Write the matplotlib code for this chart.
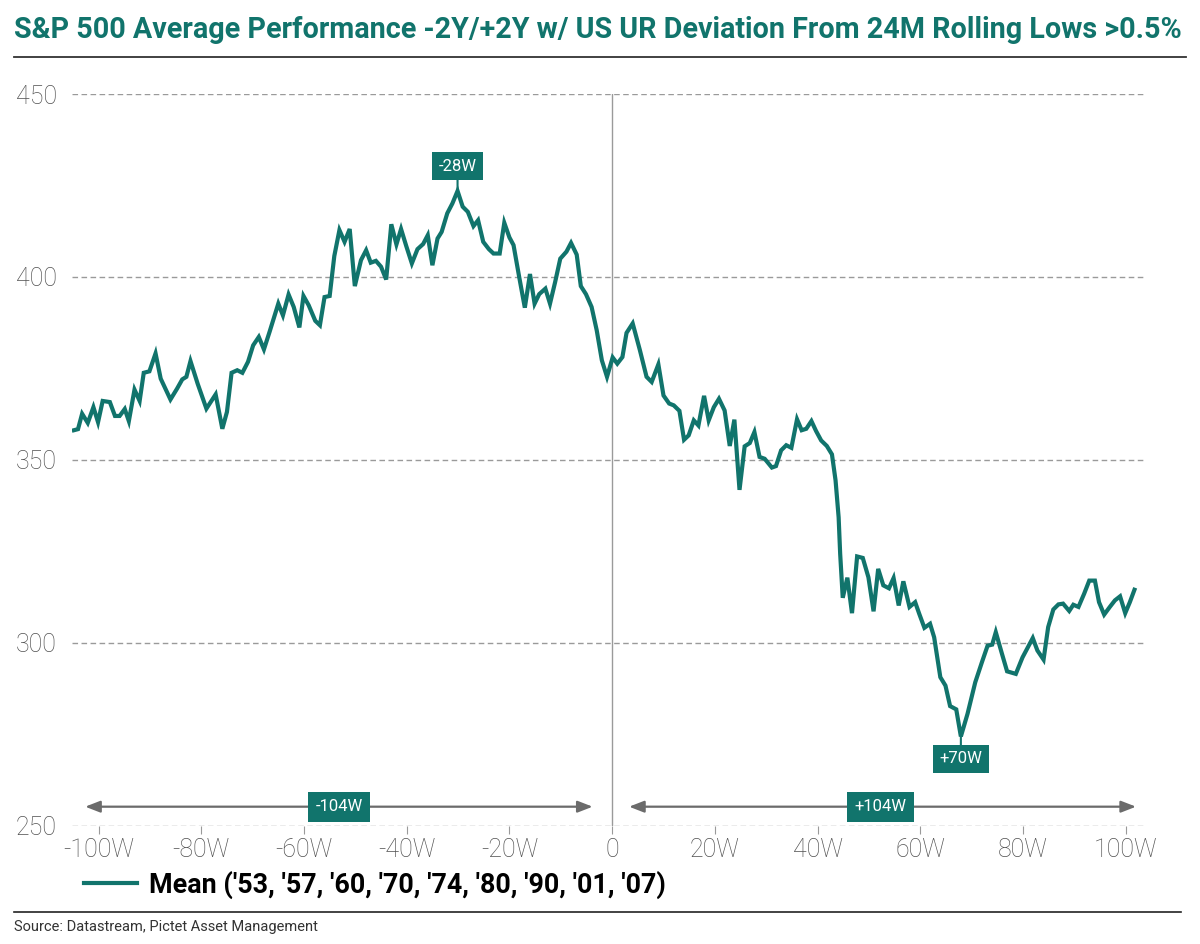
import matplotlib
matplotlib.use("Agg")
import matplotlib.pyplot as plt
from matplotlib.lines import Line2D

plt.rcParams["font.family"] = ["Roboto", "DejaVu Sans"]

# weeks relative to the UR trigger, and S&P 500 mean level
weeks = [
    -104.8, -104.0, -103.2, -102.1, -101.0, -100.1, -99.2, -97.8, -96.8, -95.9,
    -94.9, -94.1, -93.0, -92.0, -91.2, -90.1, -88.9, -87.9, -86.0, -84.7,
    -83.7, -82.9, -82.1, -80.7, -79.0, -77.2, -75.9, -75.0, -74.1, -73.0,
    -72.0, -70.9, -69.9, -68.8, -67.8, -66.7, -65.0, -64.1, -63.0, -62.0,
    -60.9, -60.1, -59.1, -57.8, -56.9, -56.0, -55.0, -54.1, -53.1, -52.1,
    -51.1, -50.1, -48.9, -47.9, -47.0, -46.0, -45.0, -44.0, -43.0, -42.0,
    -41.1, -40.1, -39.0, -37.9, -36.8, -35.9, -35.0, -34.0, -33.2, -32.1,
    -31.1, -30.1, -29.1, -28.1, -27.0, -26.1, -25.1, -24.0, -23.1, -21.9,
    -21.0, -20.0, -19.2, -18.1, -17.0, -16.0, -15.1, -14.2, -13.0, -12.1,
    -11.1, -10.1, -8.9, -8.0, -6.9, -6.1, -5.1, -4.0, -3.0, -2.0,
    -1.0, 0.1, 1.0, 2.0, 2.8, 4.0, 5.4, 6.7, 7.7, 9.0,
    10.0, 11.1, 12.0, 13.1, 14.0, 14.9, 15.9, 16.8, 17.9, 18.8,
    19.8, 20.8, 21.9, 22.9, 23.8, 24.8, 25.8, 26.8, 27.7, 28.7,
    29.7, 31.1, 31.9, 32.9, 33.9, 34.9, 36.0, 36.9, 37.8, 38.8,
    39.7, 40.7, 41.8, 42.8, 43.5, 44.1, 44.4, 44.9, 45.8, 46.7,
    47.7, 48.8, 49.9, 50.9, 51.8, 52.8, 53.9, 54.8, 55.8, 56.7,
    57.9, 59.0, 59.8, 60.8, 61.9, 62.7, 63.9, 64.9, 65.8, 67.0,
    67.9, 69.2, 70.7, 72.0, 73.1, 74.0, 74.7, 75.9, 76.9, 78.6,
    79.9, 81.9, 82.8, 84.0, 84.9, 85.9, 86.9, 87.8, 89.0, 89.8,
    90.8, 91.9, 92.9, 94.0, 94.8, 95.8, 96.9, 97.9, 98.9, 99.9,
    100.8, 101.7,
]
mean_level = [
    358.1, 358.4, 362.6, 360.1, 364.4, 360.3, 366.1, 365.8, 362.0, 362.0,
    363.9, 360.6, 369.2, 366.1, 373.8, 374.2, 379.1, 372.2, 366.5, 369.5,
    372.0, 372.7, 377.0, 370.8, 364.0, 367.9, 358.5, 363.1, 373.8, 374.5,
    373.8, 376.8, 381.3, 383.6, 380.2, 385.0, 392.7, 389.5, 395.2, 391.8,
    386.2, 394.8, 392.3, 388.0, 386.8, 394.5, 394.8, 405.7, 412.8, 409.6,
    413.1, 397.5, 404.6, 407.3, 403.9, 404.4, 402.8, 399.3, 414.4, 408.9,
    413.1, 408.5, 403.7, 407.6, 409.0, 411.4, 403.2, 410.5, 412.3, 417.4,
    420.1, 423.5, 419.2, 417.8, 413.9, 415.5, 409.6, 407.6, 406.4, 406.4,
    414.8, 410.8, 408.7, 400.0, 391.6, 400.8, 392.7, 395.3, 396.8, 392.7,
    398.6, 405.0, 406.9, 409.3, 406.1, 397.5, 395.3, 391.8, 385.4, 377.2,
    372.7, 378.0, 376.3, 378.1, 384.7, 387.3, 380.0, 372.7, 371.3, 376.1,
    367.6, 365.4, 364.9, 363.4, 355.5, 356.7, 360.8, 359.4, 367.5, 360.8,
    364.4, 366.7, 363.5, 353.8, 361.0, 341.8, 353.7, 354.6, 357.6, 350.8,
    350.3, 347.9, 348.3, 352.6, 354.0, 353.3, 361.1, 358.1, 358.5, 360.6,
    357.9, 355.3, 353.8, 351.5, 344.4, 334.3, 324.3, 312.3, 317.8, 308.1,
    323.6, 323.2, 317.9, 308.6, 320.2, 315.7, 314.9, 317.7, 310.2, 316.8,
    309.8, 311.1, 307.9, 304.1, 305.2, 301.5, 290.6, 288.3, 282.7, 281.8,
    274.4, 280.6, 289.2, 294.7, 299.2, 299.5, 302.9, 297.0, 292.2, 291.5,
    296.0, 301.3, 297.9, 295.4, 304.3, 309.1, 310.5, 310.7, 308.7, 310.4,
    309.8, 313.4, 317.0, 317.0, 311.1, 307.7, 309.8, 311.6, 312.7, 308.1,
    311.1, 314.5,
]

xtick_pos = [-100, -80, -60, -40, -20, 0, 20, 40, 60, 80, 100]
xtick_lab = ["-100W", "-80W", "-60W", "-40W", "-20W", "0", "20W", "40W", "60W", "80W", "100W"]
ytick_pos = [250, 300, 350, 400, 450]

teal = "#11746c"
grey = "#6b6b6b"

fig = plt.figure(figsize=(12, 9.44), dpi=100)
ax = fig.add_axes([0.0603, 0.1253, 0.8945, 0.7751])

ax.plot(weeks, mean_level, color=teal, lw=3.0, solid_joinstyle="miter",
        label="Mean ('53, '57, '60, '70, '74, '80, '90, '01, '07)")

ax.set_xlim(-105.1, 103.9)
ax.set_ylim(250, 450)
for s in ax.spines.values():
    s.set_visible(False)

for y in ytick_pos:
    ax.axhline(y, color="#9a9a9a", lw=1.0, ls=(0, (4, 2.5)), zorder=0)
ax.axvline(0, color="#9a9a9a", lw=1.0, zorder=0)

ax.set_xticks(xtick_pos)
ax.set_xticklabels(xtick_lab)
ax.set_yticks(ytick_pos)
ax.tick_params(axis="x", length=6, color="#9a9a9a", pad=3, labelsize=18, labelcolor="#505050")
ax.tick_params(axis="y", length=0, pad=11, labelsize=18, labelcolor="#505050")
for t in ax.get_xticklabels() + ax.get_yticklabels():
    t.set_fontweight("light")

# peak / trough callouts
box = dict(boxstyle="square,pad=0.38", fc=teal, ec="none")
ax.annotate("-28W", xy=(-30.1, 423.5), xytext=(-30.1, 430.3), ha="center", va="center",
            color="white", fontsize=12, bbox=box,
            arrowprops=dict(arrowstyle="-", color=teal, lw=1.5, shrinkA=0, shrinkB=0))
ax.annotate("+70W", xy=(67.9, 274.4), xytext=(67.9, 268.3), ha="center", va="center",
            color="white", fontsize=12, bbox=box,
            arrowprops=dict(arrowstyle="-", color=teal, lw=1.5, shrinkA=0, shrinkB=0))

# two-year window arrows
arr_y = 255.2
for x0, x1, xm, lab in [(-102.6, -3.8, -53.2, "-104W"), (3.3, 102.0, 52.3, "+104W")]:
    ax.annotate("", xy=(x0, arr_y), xytext=(x1, arr_y),
                arrowprops=dict(arrowstyle="<|-|>,head_length=0.9,head_width=0.35",
                                color=grey, lw=1.6, shrinkA=0, shrinkB=0))
    ax.text(xm, arr_y, lab, ha="center", va="center", color="white", fontsize=12,
            bbox=dict(boxstyle="square,pad=0.45", fc=teal, ec="none"))

title = fig.text(0.012, 0.968,
                 "S&P 500 Average Performance -2Y/+2Y w/ US UR Deviation From 24M Rolling Lows >0.5%",
                 color=teal, fontsize=24, fontweight="bold", ha="left", va="center")
fig.add_artist(Line2D([0.012, 0.988], [0.9395, 0.9395], color="#333333", lw=1.3))

leg = fig.legend(loc="center left", bbox_to_anchor=(0.049, 0.0625), frameon=False,
                 handlelength=1.9, handletextpad=0.45, prop=dict(size=20, weight="bold"))

fig.add_artist(Line2D([0.012, 0.984], [0.034, 0.034], color="#222222", lw=1.2))
fig.text(0.012, 0.018, "Source: Datastream, Pictet Asset Management", fontsize=10.5,
         color="#333333", ha="left", va="center")

# shrink the wide fonts to the reference text widths
r = fig.canvas.get_renderer()
w = title.get_window_extent(r).width
title.set_fontsize(24 * 1171 / w)
lt = leg.get_texts()[0]
w = lt.get_window_extent(r).width
lt.set_fontsize(20 * 515 / w)

fig.savefig("out.png", dpi=100)
